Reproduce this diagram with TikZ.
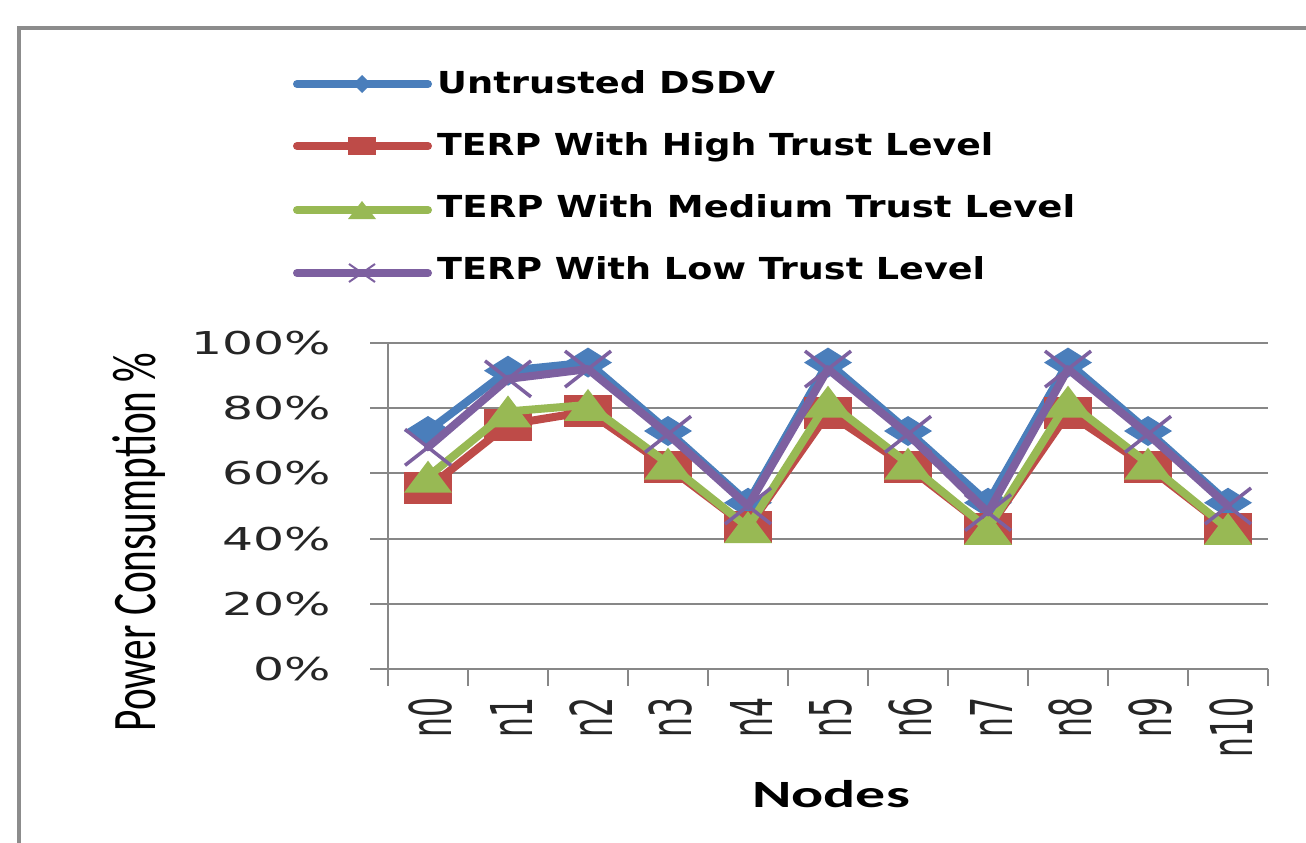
\documentclass[tikz,border=0pt]{standalone}
\usepackage{fontspec}
\usepackage{graphicx}
\setmainfont{DejaVu Sans}
\newfontfamily\carlito{Carlito}
\definecolor{sblue}{HTML}{4A7EBB}
\definecolor{sred}{HTML}{BE4B48}
\definecolor{sgreen}{HTML}{98B954}
\definecolor{spurple}{HTML}{7D60A0}
\definecolor{gridc}{HTML}{878787}
\definecolor{framec}{HTML}{8C8C8C}
\tikzset{
  serline/.style={line width=8pt, line join=round, line cap=round},
  gridline/.style={draw=gridc, line width=2pt},
  ticklab/.style={inner sep=0pt, text=black!85},
}
\def\Blue{73,91.5,94,73,51,94,73,51,94,73,51}
\def\Red{55.5,75,79,62,43.5,78.5,62,43,78.5,62,43}
\def\Green{59,79,81,63,43.5,82,63,43,82,63,43}
\def\Purple{68,89,92,72,50,92,72,48,92,72,50}
\begin{document}
\begin{tikzpicture}[x=1pt,y=-1pt]
\useasboundingbox (0,0) rectangle (1306,843);
\fill[white] (0,0) rectangle (1306,843);
% chart frame
\draw[framec, line width=4pt] (19,860) -- (19,28) -- (1320,28);

% gridlines and axes
\foreach \v in {20,40,60,80,100}
  \draw[gridline] (370,{669-3.26*\v}) -- (1268,{669-3.26*\v});
\draw[gridline] (370,669) -- (1268,669);
\draw[gridline] (388,343) -- (388,686);
\foreach \i in {1,...,11}
  \draw[gridline] ({388+80*\i},669) -- ({388+80*\i},686);

% y tick labels
\foreach \v in {0,20,40,60,80,100}
  \node[ticklab, anchor=east] (yl\v) at (331,{669-3.26*\v})
    {\scalebox{1.55}[1]{\fontsize{31.5}{32}\selectfont \v\%}};

% x tick labels
\foreach \i in {0,...,10}
  \node[ticklab, rotate=90, anchor=east] (xl\i) at ({431+80*\i},697)
    {\scalebox{1}[1.83]{\fontsize{31.5}{32}\selectfont n\i}};

% axis titles
\node[inner sep=0pt, rotate=90, anchor=base] (ytitle) at (155,542)
  {\scalebox{1}[1.5]{\fontsize{41.3}{42}\selectfont\carlito Power Consumption \%}};
\node[inner sep=0pt, anchor=base west] (xtitle) at (752,807)
  {\scalebox{1.55}[1]{\fontsize{38.6}{40}\selectfont\carlito\bfseries Nodes}};

% data series
\begin{scope}[shift={(428,669)}, x=80pt, y=3.26pt]
  % blue: Untrusted DSDV
  \draw[serline, sblue] (0,73) \foreach \v [count=\i from 1] in {91.5,94,73,51,94,73,51,94,73,51} { -- (\i,\v) };
  \foreach \v [count=\i from 0] in \Blue
    \fill[sblue] (\i,\v) +(-24pt,0pt) -- +(0pt,15pt) -- +(24pt,0pt) -- +(0pt,-15pt) -- cycle;
  % red: high trust
  \draw[serline, sred] (0,55.5) \foreach \v [count=\i from 1] in {75,79,62,43.5,78.5,62,43,78.5,62,43} { -- (\i,\v) };
  \foreach \v [count=\i from 0] in \Red
    \fill[sred] (\i,\v) +(-24pt,-16pt) rectangle +(24pt,16pt);
  % green: medium trust
  \draw[serline, sgreen] (0,59) \foreach \v [count=\i from 1] in {79,81,63,43.5,82,63,43,82,63,43} { -- (\i,\v) };
  \foreach \v [count=\i from 0] in \Green
    \fill[sgreen] (\i,\v) +(-24pt,-16pt) -- +(24pt,-16pt) -- +(0pt,16pt) -- cycle;
  % purple: low trust
  \draw[serline, spurple] (0,68) \foreach \v [count=\i from 1] in {89,92,72,50,92,72,48,92,72,50} { -- (\i,\v) };
  \foreach \v [count=\i from 0] in \Purple {
    \draw[spurple, line width=3.5pt] (\i,\v) +(-23pt,-18pt) -- +(23pt,18pt);
    \draw[spurple, line width=3.5pt] (\i,\v) +(-23pt,18pt) -- +(23pt,-18pt);
  }
\end{scope}

% legend
\draw[serline, sblue] (297,84) -- (428,84);
\fill[sblue] (362,84) +(-9,0) -- +(0,-9) -- +(9,0) -- +(0,9) -- cycle;
\node[inner sep=0pt, anchor=base west] (leg1) at (437,94)
  {\resizebox{338pt}{23pt}{\bfseries Untrusted DSDV}};

\draw[serline, sred] (297,146) -- (428,146);
\fill[sred] (362,146) +(-14,-9) rectangle +(14,9);
\node[inner sep=0pt, anchor=base west] (leg2) at (437,155)
  {\resizebox{556pt}{23pt}{\bfseries TERP With High Trust Level}};

\draw[serline, sgreen] (297,210) -- (428,210);
\fill[sgreen] (362,210) +(-14,9) -- +(14,9) -- +(0,-9) -- cycle;
\node[inner sep=0pt, anchor=base west] (leg3) at (437,217)
  {\resizebox{638pt}{23pt}{\bfseries TERP With Medium Trust Level}};

\draw[serline, spurple] (297,273) -- (428,273);
\draw[spurple, line width=2pt] (362,273) +(-13,-9) -- +(13,9);
\draw[spurple, line width=2pt] (362,273) +(-13,9) -- +(13,-9);
\node[inner sep=0pt, anchor=base west] (leg4) at (437,279)
  {\resizebox{548pt}{23pt}{\bfseries TERP With Low Trust Level}};
\end{tikzpicture}
\end{document}
